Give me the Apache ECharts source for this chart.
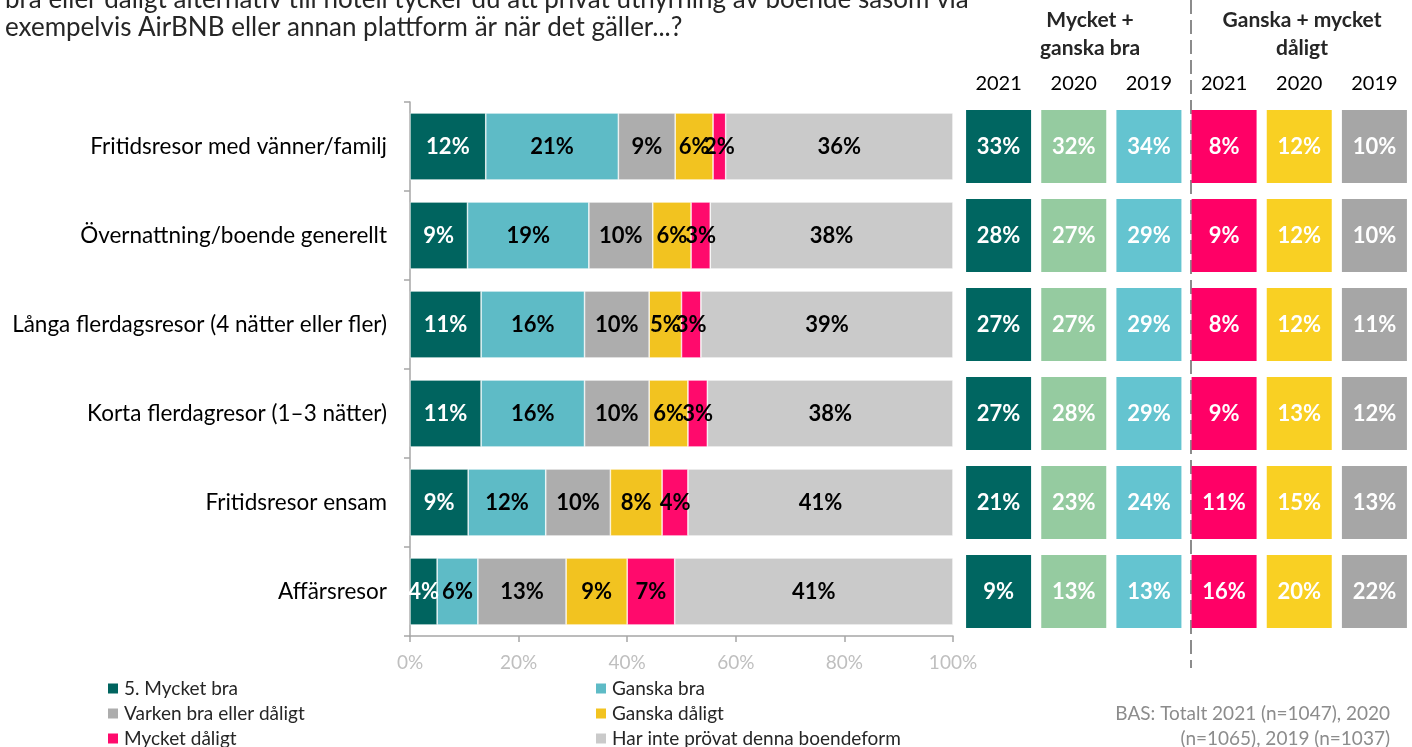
<!DOCTYPE html>
<html>
<head>
<meta charset="utf-8">
<script src="https://cdn.jsdelivr.net/npm/echarts@6/dist/echarts.min.js"></script>
<style>
  html, body { margin: 0; padding: 0; background: #fff; }
  #chart { width: 1412px; height: 747px; }
</style>
</head>
<body>
<div id="chart"></div>
<script>
// kategorier (uppifrån och ned)
const categories = [
  'Fritidsresor med vänner/familj',
  'Övernattning/boende generellt',
  'Långa flerdagsresor (4 nätter eller fler)',
  'Korta flerdagresor (1–3 nätter)',
  'Fritidsresor ensam',
  'Affärsresor'
]
const seriesNames = ['5. Mycket bra', 'Ganska bra', 'Varken bra eller dåligt', 'Ganska dåligt', 'Mycket dåligt', 'Har inte prövat denna boendeform']

// andelar 2021, som de står i staplarna
const mycketBra = [12, 9, 11, 11, 9, 4]
const ganskaBra = [21, 19, 16, 16, 12, 6]
const varken = [9, 10, 10, 10, 10, 13]
const ganskaDaligt = [6, 6, 5, 6, 8, 9]
const mycketDaligt = [2, 3, 3, 3, 4, 7]
const ejProvat = [36, 38, 39, 38, 41, 41]

// sammanfattning per år
const years = ['2021', '2020', '2019', '2021', '2020', '2019']
const bra2021 = [33, 28, 27, 27, 21, 9]
const bra2020 = [32, 27, 27, 28, 23, 13]
const bra2019 = [34, 29, 29, 29, 24, 13]
const daligt2021 = [8, 9, 8, 9, 11, 16]
const daligt2020 = [12, 12, 12, 13, 15, 20]
const daligt2019 = [10, 10, 11, 12, 13, 22]

const FONT = 'Lato'
const barColors = ['#00645F', '#5EBBC6', '#ADADAD', '#F2C320', '#FF0A6C', '#CACACA']
const tileColors = ['#006661', '#95CBA0', '#64C4D0', '#FF0066', '#F9D023', '#A6A6A6']

const stacks = [mycketBra, ganskaBra, varken, ganskaDaligt, mycketDaligt, ejProvat]
// staplarna fyller 100 % av raden
const rowSums = categories.map((c, i) => stacks.reduce((s, arr) => s + arr[i], 0))

const barSeries = stacks.map((arr, k) => ({
  name: seriesNames[k],
  type: 'bar',
  stack: 'total',
  xAxisIndex: 0,
  yAxisIndex: 0,
  barWidth: 67,
  itemStyle: { color: barColors[k], borderColor: '#fff', borderWidth: 0.6 },
  label: {
    show: true,
    position: 'inside',
    fontFamily: FONT,
    fontWeight: 'bold',
    fontSize: 22,
    color: k === 0 ? '#fff' : '#000',
    formatter: p => arr[p.dataIndex] + '%'
  },
  data: arr.map((v, i) => v / rowSums[i] * 100)
}))

const tileCols = [bra2021, bra2020, bra2019, daligt2021, daligt2020, daligt2019]
const tileData = []
tileCols.forEach((arr, c) => {
  arr.forEach((v, r) => {
    tileData.push({ value: [c, r, v], itemStyle: { color: tileColors[c], opacity: 1 } })
  })
})

// en legend per post, två kolumner x tre rader
const legendPos = [[106, 679], [594, 679], [106, 704], [594, 704], [106, 729], [594, 729]]
const legends = seriesNames.map((name, k) => ({
  left: legendPos[k][0],
  top: legendPos[k][1],
  padding: 0,
  itemWidth: 12,
  itemHeight: 12,
  icon: 'rect',
  textStyle: { fontFamily: FONT, fontSize: 19, color: '#262626', lineHeight: 18 },
  data: [name]
}))

const chart = echarts.init(document.getElementById('chart'))
chart.setOption({
  animation: false,
  textStyle: { fontFamily: FONT },
  grid: [
    { left: 410, top: 102, width: 543, height: 534 },
    { left: 961, top: 102, width: 462, height: 534 }
  ],
  legend: legends,
  xAxis: [
    {
      gridIndex: 0,
      type: 'value',
      min: 0,
      max: 100,
      interval: 20,
      axisLine: { show: true, lineStyle: { color: '#A6A6A6', width: 1.5 } },
      axisTick: { show: true, length: 6, lineStyle: { color: '#A6A6A6', width: 1.5 } },
      splitLine: { show: false },
      axisLabel: { formatter: '{value}%', color: '#BFBFBF', fontSize: 19, margin: 17, fontFamily: FONT }
    },
    {
      gridIndex: 1,
      type: 'category',
      position: 'top',
      data: years,
      axisLine: { show: false },
      axisTick: { show: false },
      axisLabel: { color: '#000', fontSize: 20, margin: 8, fontFamily: FONT }
    }
  ],
  yAxis: [
    {
      gridIndex: 0,
      type: 'category',
      inverse: true,
      data: categories,
      axisLine: { show: true, lineStyle: { color: '#A6A6A6', width: 1.5 } },
      axisTick: { show: true, length: 6, lineStyle: { color: '#A6A6A6', width: 1.5 } },
      axisLabel: { color: '#000', fontSize: 22.5, margin: 23, fontFamily: FONT }
    },
    {
      gridIndex: 1,
      type: 'category',
      inverse: true,
      data: categories,
      show: false
    }
  ],
  graphic: [
    {
      type: 'text',
      left: 5,
      top: -14,
      style: {
        text: 'bra eller dåligt alternativ till hotell tycker du att privat uthyrning av boende såsom via\nexempelvis AirBNB eller annan plattform är när det gäller...?',
        font: '26px ' + FONT,
        fill: '#262626',
        lineHeight: 28
      }
    },
    {
      type: 'text',
      x: 1090,
      y: 6,
      style: {
        text: 'Mycket +\nganska bra',
        font: 'bold 21px ' + FONT,
        fill: '#262626',
        align: 'center',
        lineHeight: 28
      }
    },
    {
      type: 'text',
      x: 1302,
      y: 6,
      style: {
        text: 'Ganska + mycket\ndåligt',
        font: 'bold 21px ' + FONT,
        fill: '#262626',
        align: 'center',
        lineHeight: 28
      }
    },
    {
      type: 'line',
      shape: { x1: 1191, y1: 0, x2: 1191, y2: 668 },
      style: { stroke: '#8C8C8C', lineWidth: 2, lineDash: [14, 6] }
    },
    {
      type: 'text',
      x: 1390,
      y: 701,
      style: {
        text: 'BAS: Totalt 2021 (n=1047), 2020\n(n=1065), 2019 (n=1037)',
        font: '19px ' + FONT,
        fill: '#8C8C8C',
        align: 'right',
        lineHeight: 25
      }
    }
  ],
  series: barSeries.concat([
    {
      type: 'scatter',
      xAxisIndex: 1,
      yAxisIndex: 1,
      symbol: 'rect',
      symbolSize: [65, 73],
      itemStyle: { opacity: 1 },
      label: {
        show: true,
        position: 'inside',
        fontFamily: FONT,
        fontWeight: 'bold',
        fontSize: 22,
        color: '#fff',
        formatter: p => p.value[2] + '%'
      },
      data: tileData
    }
  ])
})
</script>
</body>
</html>
